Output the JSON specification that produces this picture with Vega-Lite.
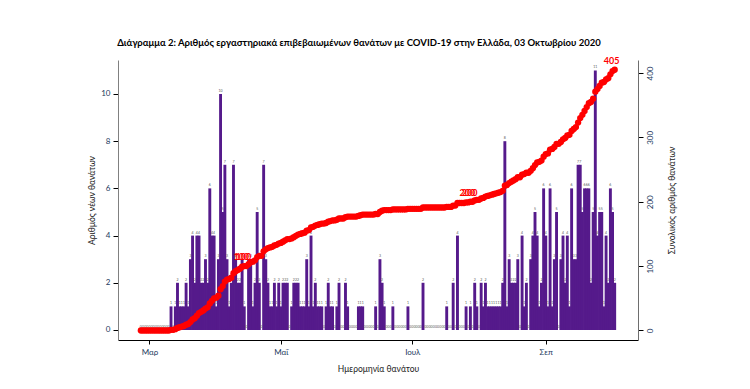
{
  "$schema": "https://vega.github.io/schema/vega-lite/v6.json",
  "width": 520,
  "height": 280,
  "autosize": "none",
  "padding": {"left": 118, "top": 60, "right": 112, "bottom": 49},
  "title": {
    "text": "Διάγραμμα 2: Αριθμός εργαστηριακά επιβεβαιωμένων θανάτων με COVID-19 στην Ελλάδα, 03 Οκτωβρίου 2020",
    "fontSize": 9.5,
    "fontWeight": "bold",
    "font": "Lato",
    "color": "#000000",
    "anchor": "middle",
    "dx": -19,
    "offset": 9
  },
  "data": {
    "values": [
      {"date": "2020-02-26", "deaths": 0, "cum": 0},
      {"date": "2020-02-27", "deaths": 0, "cum": 0},
      {"date": "2020-02-28", "deaths": 0, "cum": 0},
      {"date": "2020-02-29", "deaths": 0, "cum": 0},
      {"date": "2020-03-01", "deaths": 0, "cum": 0},
      {"date": "2020-03-02", "deaths": 0, "cum": 0},
      {"date": "2020-03-03", "deaths": 0, "cum": 0},
      {"date": "2020-03-04", "deaths": 0, "cum": 0},
      {"date": "2020-03-05", "deaths": 0, "cum": 0},
      {"date": "2020-03-06", "deaths": 0, "cum": 0},
      {"date": "2020-03-07", "deaths": 0, "cum": 0},
      {"date": "2020-03-08", "deaths": 0, "cum": 0},
      {"date": "2020-03-09", "deaths": 0, "cum": 0},
      {"date": "2020-03-10", "deaths": 0, "cum": 0},
      {"date": "2020-03-11", "deaths": 1, "cum": 1},
      {"date": "2020-03-12", "deaths": 0, "cum": 1},
      {"date": "2020-03-13", "deaths": 1, "cum": 2},
      {"date": "2020-03-14", "deaths": 2, "cum": 4},
      {"date": "2020-03-15", "deaths": 1, "cum": 5},
      {"date": "2020-03-16", "deaths": 1, "cum": 6},
      {"date": "2020-03-17", "deaths": 1, "cum": 7},
      {"date": "2020-03-18", "deaths": 2, "cum": 9},
      {"date": "2020-03-19", "deaths": 1, "cum": 10},
      {"date": "2020-03-20", "deaths": 3, "cum": 13},
      {"date": "2020-03-21", "deaths": 4, "cum": 17},
      {"date": "2020-03-22", "deaths": 2, "cum": 19},
      {"date": "2020-03-23", "deaths": 4, "cum": 23},
      {"date": "2020-03-24", "deaths": 4, "cum": 27},
      {"date": "2020-03-25", "deaths": 2, "cum": 29},
      {"date": "2020-03-26", "deaths": 2, "cum": 31},
      {"date": "2020-03-27", "deaths": 3, "cum": 34},
      {"date": "2020-03-28", "deaths": 2, "cum": 36},
      {"date": "2020-03-29", "deaths": 6, "cum": 42},
      {"date": "2020-03-30", "deaths": 4, "cum": 46},
      {"date": "2020-03-31", "deaths": 4, "cum": 50},
      {"date": "2020-04-01", "deaths": 1, "cum": 51},
      {"date": "2020-04-02", "deaths": 3, "cum": 54},
      {"date": "2020-04-03", "deaths": 10, "cum": 64},
      {"date": "2020-04-04", "deaths": 5, "cum": 69},
      {"date": "2020-04-05", "deaths": 7, "cum": 76},
      {"date": "2020-04-06", "deaths": 3, "cum": 79},
      {"date": "2020-04-07", "deaths": 1, "cum": 80},
      {"date": "2020-04-08", "deaths": 2, "cum": 82},
      {"date": "2020-04-09", "deaths": 7, "cum": 89},
      {"date": "2020-04-10", "deaths": 3, "cum": 92},
      {"date": "2020-04-11", "deaths": 2, "cum": 94},
      {"date": "2020-04-12", "deaths": 2, "cum": 96},
      {"date": "2020-04-13", "deaths": 3, "cum": 99},
      {"date": "2020-04-14", "deaths": 1, "cum": 100, "lab": "100"},
      {"date": "2020-04-15", "deaths": 0, "cum": 100, "lab": "100"},
      {"date": "2020-04-16", "deaths": 3, "cum": 103},
      {"date": "2020-04-17", "deaths": 3, "cum": 106},
      {"date": "2020-04-18", "deaths": 1, "cum": 107},
      {"date": "2020-04-19", "deaths": 2, "cum": 109},
      {"date": "2020-04-20", "deaths": 5, "cum": 114},
      {"date": "2020-04-21", "deaths": 2, "cum": 116},
      {"date": "2020-04-22", "deaths": 0, "cum": 116},
      {"date": "2020-04-23", "deaths": 7, "cum": 123},
      {"date": "2020-04-24", "deaths": 3, "cum": 126},
      {"date": "2020-04-25", "deaths": 2, "cum": 128},
      {"date": "2020-04-26", "deaths": 1, "cum": 129},
      {"date": "2020-04-27", "deaths": 1, "cum": 130},
      {"date": "2020-04-28", "deaths": 2, "cum": 132},
      {"date": "2020-04-29", "deaths": 1, "cum": 133},
      {"date": "2020-04-30", "deaths": 2, "cum": 135},
      {"date": "2020-05-01", "deaths": 1, "cum": 136},
      {"date": "2020-05-02", "deaths": 2, "cum": 138},
      {"date": "2020-05-03", "deaths": 2, "cum": 140},
      {"date": "2020-05-04", "deaths": 2, "cum": 142},
      {"date": "2020-05-05", "deaths": 0, "cum": 142},
      {"date": "2020-05-06", "deaths": 1, "cum": 143},
      {"date": "2020-05-07", "deaths": 2, "cum": 145},
      {"date": "2020-05-08", "deaths": 2, "cum": 147},
      {"date": "2020-05-09", "deaths": 2, "cum": 149},
      {"date": "2020-05-10", "deaths": 1, "cum": 150},
      {"date": "2020-05-11", "deaths": 1, "cum": 151},
      {"date": "2020-05-12", "deaths": 1, "cum": 152},
      {"date": "2020-05-13", "deaths": 3, "cum": 155},
      {"date": "2020-05-14", "deaths": 1, "cum": 156},
      {"date": "2020-05-15", "deaths": 4, "cum": 160},
      {"date": "2020-05-16", "deaths": 1, "cum": 161},
      {"date": "2020-05-17", "deaths": 2, "cum": 163},
      {"date": "2020-05-18", "deaths": 1, "cum": 164},
      {"date": "2020-05-19", "deaths": 1, "cum": 165},
      {"date": "2020-05-20", "deaths": 1, "cum": 166},
      {"date": "2020-05-21", "deaths": 0, "cum": 166},
      {"date": "2020-05-22", "deaths": 1, "cum": 167},
      {"date": "2020-05-23", "deaths": 2, "cum": 169},
      {"date": "2020-05-24", "deaths": 1, "cum": 170},
      {"date": "2020-05-25", "deaths": 1, "cum": 171},
      {"date": "2020-05-26", "deaths": 0, "cum": 171},
      {"date": "2020-05-27", "deaths": 1, "cum": 172},
      {"date": "2020-05-28", "deaths": 2, "cum": 174},
      {"date": "2020-05-29", "deaths": 0, "cum": 174},
      {"date": "2020-05-30", "deaths": 0, "cum": 174},
      {"date": "2020-05-31", "deaths": 2, "cum": 176},
      {"date": "2020-06-01", "deaths": 1, "cum": 177},
      {"date": "2020-06-02", "deaths": 0, "cum": 177},
      {"date": "2020-06-03", "deaths": 0, "cum": 177},
      {"date": "2020-06-04", "deaths": 0, "cum": 177},
      {"date": "2020-06-05", "deaths": 0, "cum": 177},
      {"date": "2020-06-06", "deaths": 1, "cum": 178},
      {"date": "2020-06-07", "deaths": 1, "cum": 179},
      {"date": "2020-06-08", "deaths": 1, "cum": 180},
      {"date": "2020-06-09", "deaths": 0, "cum": 180},
      {"date": "2020-06-10", "deaths": 0, "cum": 180},
      {"date": "2020-06-11", "deaths": 0, "cum": 180},
      {"date": "2020-06-12", "deaths": 0, "cum": 180},
      {"date": "2020-06-13", "deaths": 0, "cum": 180},
      {"date": "2020-06-14", "deaths": 1, "cum": 181},
      {"date": "2020-06-15", "deaths": 0, "cum": 181},
      {"date": "2020-06-16", "deaths": 3, "cum": 184},
      {"date": "2020-06-17", "deaths": 2, "cum": 186},
      {"date": "2020-06-18", "deaths": 1, "cum": 187},
      {"date": "2020-06-19", "deaths": 0, "cum": 187},
      {"date": "2020-06-20", "deaths": 0, "cum": 187},
      {"date": "2020-06-21", "deaths": 0, "cum": 187},
      {"date": "2020-06-22", "deaths": 1, "cum": 188},
      {"date": "2020-06-23", "deaths": 0, "cum": 188},
      {"date": "2020-06-24", "deaths": 0, "cum": 188},
      {"date": "2020-06-25", "deaths": 0, "cum": 188},
      {"date": "2020-06-26", "deaths": 0, "cum": 188},
      {"date": "2020-06-27", "deaths": 0, "cum": 188},
      {"date": "2020-06-28", "deaths": 0, "cum": 188},
      {"date": "2020-06-29", "deaths": 1, "cum": 189},
      {"date": "2020-06-30", "deaths": 0, "cum": 189},
      {"date": "2020-07-01", "deaths": 0, "cum": 189},
      {"date": "2020-07-02", "deaths": 0, "cum": 189},
      {"date": "2020-07-03", "deaths": 0, "cum": 189},
      {"date": "2020-07-04", "deaths": 0, "cum": 189},
      {"date": "2020-07-05", "deaths": 0, "cum": 189},
      {"date": "2020-07-06", "deaths": 2, "cum": 191},
      {"date": "2020-07-07", "deaths": 0, "cum": 191},
      {"date": "2020-07-08", "deaths": 0, "cum": 191},
      {"date": "2020-07-09", "deaths": 0, "cum": 191},
      {"date": "2020-07-10", "deaths": 0, "cum": 191},
      {"date": "2020-07-11", "deaths": 0, "cum": 191},
      {"date": "2020-07-12", "deaths": 0, "cum": 191},
      {"date": "2020-07-13", "deaths": 0, "cum": 191},
      {"date": "2020-07-14", "deaths": 0, "cum": 191},
      {"date": "2020-07-15", "deaths": 0, "cum": 191},
      {"date": "2020-07-16", "deaths": 0, "cum": 191},
      {"date": "2020-07-17", "deaths": 1, "cum": 192},
      {"date": "2020-07-18", "deaths": 0, "cum": 192},
      {"date": "2020-07-19", "deaths": 0, "cum": 192},
      {"date": "2020-07-20", "deaths": 2, "cum": 194},
      {"date": "2020-07-21", "deaths": 0, "cum": 194},
      {"date": "2020-07-22", "deaths": 4, "cum": 198},
      {"date": "2020-07-23", "deaths": 0, "cum": 198},
      {"date": "2020-07-24", "deaths": 0, "cum": 198},
      {"date": "2020-07-25", "deaths": 0, "cum": 198},
      {"date": "2020-07-26", "deaths": 1, "cum": 199},
      {"date": "2020-07-27", "deaths": 0, "cum": 199},
      {"date": "2020-07-28", "deaths": 1, "cum": 200, "lab": "200"},
      {"date": "2020-07-29", "deaths": 0, "cum": 200, "lab": "200"},
      {"date": "2020-07-30", "deaths": 2, "cum": 202},
      {"date": "2020-07-31", "deaths": 1, "cum": 203},
      {"date": "2020-08-01", "deaths": 0, "cum": 203},
      {"date": "2020-08-02", "deaths": 2, "cum": 205},
      {"date": "2020-08-03", "deaths": 1, "cum": 206},
      {"date": "2020-08-04", "deaths": 2, "cum": 208},
      {"date": "2020-08-05", "deaths": 1, "cum": 209},
      {"date": "2020-08-06", "deaths": 1, "cum": 210},
      {"date": "2020-08-07", "deaths": 1, "cum": 211},
      {"date": "2020-08-08", "deaths": 1, "cum": 212},
      {"date": "2020-08-09", "deaths": 1, "cum": 213},
      {"date": "2020-08-10", "deaths": 1, "cum": 214},
      {"date": "2020-08-11", "deaths": 1, "cum": 215},
      {"date": "2020-08-12", "deaths": 2, "cum": 217},
      {"date": "2020-08-13", "deaths": 8, "cum": 225},
      {"date": "2020-08-14", "deaths": 1, "cum": 226},
      {"date": "2020-08-15", "deaths": 3, "cum": 229},
      {"date": "2020-08-16", "deaths": 2, "cum": 231},
      {"date": "2020-08-17", "deaths": 2, "cum": 233},
      {"date": "2020-08-18", "deaths": 2, "cum": 235},
      {"date": "2020-08-19", "deaths": 3, "cum": 238},
      {"date": "2020-08-20", "deaths": 0, "cum": 238},
      {"date": "2020-08-21", "deaths": 4, "cum": 242},
      {"date": "2020-08-22", "deaths": 1, "cum": 243},
      {"date": "2020-08-23", "deaths": 2, "cum": 245},
      {"date": "2020-08-24", "deaths": 0, "cum": 245},
      {"date": "2020-08-25", "deaths": 3, "cum": 248},
      {"date": "2020-08-26", "deaths": 4, "cum": 252},
      {"date": "2020-08-27", "deaths": 5, "cum": 257},
      {"date": "2020-08-28", "deaths": 4, "cum": 261},
      {"date": "2020-08-29", "deaths": 1, "cum": 262},
      {"date": "2020-08-30", "deaths": 2, "cum": 264},
      {"date": "2020-08-31", "deaths": 6, "cum": 270},
      {"date": "2020-09-01", "deaths": 4, "cum": 274},
      {"date": "2020-09-02", "deaths": 1, "cum": 275},
      {"date": "2020-09-03", "deaths": 6, "cum": 281},
      {"date": "2020-09-04", "deaths": 1, "cum": 282},
      {"date": "2020-09-05", "deaths": 3, "cum": 285},
      {"date": "2020-09-06", "deaths": 5, "cum": 290},
      {"date": "2020-09-07", "deaths": 0, "cum": 290},
      {"date": "2020-09-08", "deaths": 3, "cum": 293},
      {"date": "2020-09-09", "deaths": 4, "cum": 297},
      {"date": "2020-09-10", "deaths": 2, "cum": 299},
      {"date": "2020-09-11", "deaths": 4, "cum": 303},
      {"date": "2020-09-12", "deaths": 1, "cum": 304},
      {"date": "2020-09-13", "deaths": 6, "cum": 310},
      {"date": "2020-09-14", "deaths": 3, "cum": 313},
      {"date": "2020-09-15", "deaths": 3, "cum": 316},
      {"date": "2020-09-16", "deaths": 7, "cum": 323},
      {"date": "2020-09-17", "deaths": 7, "cum": 330},
      {"date": "2020-09-18", "deaths": 5, "cum": 335},
      {"date": "2020-09-19", "deaths": 6, "cum": 341},
      {"date": "2020-09-20", "deaths": 6, "cum": 347},
      {"date": "2020-09-21", "deaths": 6, "cum": 353},
      {"date": "2020-09-22", "deaths": 2, "cum": 355},
      {"date": "2020-09-23", "deaths": 5, "cum": 360},
      {"date": "2020-09-24", "deaths": 11, "cum": 371},
      {"date": "2020-09-25", "deaths": 4, "cum": 375},
      {"date": "2020-09-26", "deaths": 5, "cum": 380},
      {"date": "2020-09-27", "deaths": 5, "cum": 385},
      {"date": "2020-09-28", "deaths": 1, "cum": 386},
      {"date": "2020-09-29", "deaths": 4, "cum": 390},
      {"date": "2020-09-30", "deaths": 2, "cum": 392},
      {"date": "2020-10-01", "deaths": 6, "cum": 398},
      {"date": "2020-10-02", "deaths": 5, "cum": 403},
      {"date": "2020-10-03", "deaths": 2, "cum": 405, "lab": "405"}
    ]
  },
  "encoding": {
    "x": {
      "field": "date",
      "type": "temporal",
      "scale": {
        "type": "utc",
        "domain": [
          {"year": 2020, "month": 2, "date": 17, "hours": 16, "minutes": 48, "utc": true},
          {"year": 2020, "month": 10, "date": 11, "hours": 12, "utc": true}
        ]
      },
      "title": "Ημερομηνία θανάτου",
      "axis": {
        "values": [
          {"year": 2020, "month": 3, "date": 1, "utc": true},
          {"year": 2020, "month": 5, "date": 1, "utc": true},
          {"year": 2020, "month": 7, "date": 1, "utc": true},
          {"year": 2020, "month": 9, "date": 1, "utc": true}
        ],
        "labelExpr": "['Ιαν','Φεβ','Μαρ','Απρ','Μαΐ','Ιουν','Ιουλ','Αυγ','Σεπ','Οκτ','Νοε','Δεκ'][utcmonth(datum.value)]",
        "domainColor": "#000000",
        "tickColor": "#000000",
        "tickSize": 4,
        "labelPadding": 4,
        "labelFontSize": 8,
        "labelColor": "#23395d",
        "titleFontSize": 8.5,
        "titleFontWeight": "normal",
        "titleColor": "#222222",
        "titlePadding": 8,
        "labelFlush": false
      }
    }
  },
  "layer": [
    {
      "encoding": {
        "y": {
          "field": "deaths",
          "type": "quantitative",
          "scale": {"domain": [-0.424, 11.44], "zero": false, "nice": false},
          "title": "Αριθμός νέων θανάτων",
          "axis": {
            "orient": "left",
            "values": [0, 2, 4, 6, 8, 10],
            "domainColor": "#808080",
            "tickColor": "#000000",
            "tickSize": 5,
            "labelPadding": 3,
            "labelFontSize": 8,
            "labelColor": "#23395d",
            "titleFontSize": 8.5,
            "titleFontWeight": "normal",
            "titleColor": "#222222",
            "titlePadding": 4
          }
        }
      },
      "layer": [
        {
          "mark": {"type": "bar", "width": 2.9, "color": "#551A8B"},
          "encoding": {"y2": {"datum": 0}}
        },
        {
          "mark": {"type": "text", "fontSize": 3.5, "color": "#555555", "baseline": "bottom", "dy": -1},
          "encoding": {"text": {"field": "deaths", "type": "quantitative"}}
        }
      ]
    },
    {
      "encoding": {
        "y": {
          "field": "cum",
          "type": "quantitative",
          "scale": {"domain": [-14.8, 420.2], "zero": false, "nice": false},
          "title": "Συνολικός αριθμός θανάτων",
          "axis": {
            "orient": "right",
            "values": [0, 100, 200, 300, 400],
            "domain": true,
            "domainColor": "#6e6e6e",
            "domainWidth": 1,
            "domainOpacity": 1,
            "tickColor": "#000000",
            "tickSize": 5,
            "tickWidth": 1,
            "labelAngle": 270,
            "labelPadding": 3,
            "labelFontSize": 8,
            "labelColor": "#23395d",
            "titleAngle": 270,
            "titleFontSize": 8.5,
            "titleFontWeight": "normal",
            "titleColor": "#222222",
            "titlePadding": 22
          }
        }
      },
      "layer": [
        {
          "mark": {"type": "point", "filled": true, "color": "#ff0000", "size": 40, "opacity": 1}
        },
        {
          "transform": [{"filter": "isValid(datum.lab)"}],
          "mark": {"type": "text", "color": "#ff0000", "fontWeight": "bold", "fontSize": 9, "baseline": "bottom", "dy": -4, "dx": -3},
          "encoding": {"text": {"field": "lab"}}
        }
      ]
    }
  ],
  "resolve": {"scale": {"y": "independent"}},
  "config": {
    "view": {"stroke": null},
    "font": "Lato",
    "axis": {"grid": false, "labelFont": "Lato", "titleFont": "Lato"}
  }
}
